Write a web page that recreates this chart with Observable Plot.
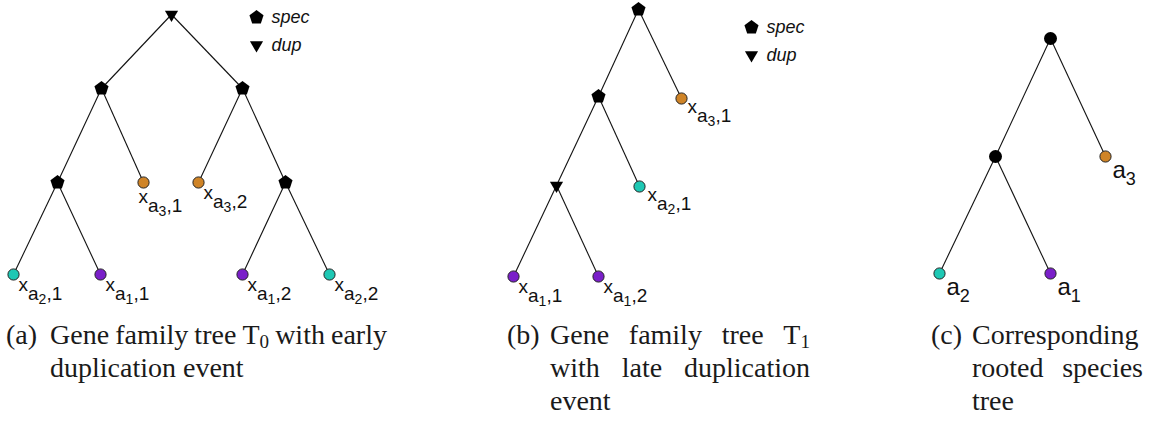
<!DOCTYPE html>
<html>
<head>
<meta charset="utf-8">
<script src="https://cdn.jsdelivr.net/npm/d3@7"></script>
<script src="https://cdn.jsdelivr.net/npm/@observablehq/plot@0.6"></script>
<style>
  html, body { margin: 0; padding: 0; background: #fff; }
  #figure { width: 1151px; }
  #figure svg { display: block; }
  #captions {
    position: relative; width: 1151px; height: 106px;
    font-family: "Liberation Serif", "Times New Roman", serif;
    font-size: 28px; line-height: 33px; color: #1a1a1a;
  }
  .caption { position: absolute; top: 0; }
  .caption .tag { position: absolute; left: 0; top: 0; white-space: nowrap; }
  .caption .body { position: absolute; top: 0; }
  .caption .line { white-space: nowrap; height: 33px; }
  .caption .spread { display: flex; justify-content: space-between; }
  .caption sub { font-size: 68%; vertical-align: -0.2em; line-height: 0; }
</style>
</head>
<body>
<div id="figure"></div>
<script>
// Nodes of the three trees: T0 (early duplication), T1 (late duplication), species tree S.
const nodeId = [
  "T0", "T0.L", "T0.R", "T0.LL", "T0.x31", "T0.x32", "T0.RR", "T0.x21", "T0.x11", "T0.x12", "T0.x22",
  "T1", "T1.L", "T1.x31", "T1.LL", "T1.x21", "T1.x11", "T1.x12",
  "S", "S.L", "S.a3", "S.a2", "S.a1"
];
const nodeParent = [
  null, "T0", "T0", "T0.L", "T0.L", "T0.R", "T0.R", "T0.LL", "T0.LL", "T0.RR", "T0.RR",
  null, "T1", "T1", "T1.L", "T1.L", "T1.LL", "T1.LL",
  null, "S", "S", "S.L", "S.L"
];
const nodeEvent = [
  "dup", "spec", "spec", "spec", "leaf", "leaf", "spec", "leaf", "leaf", "leaf", "leaf",
  "spec", "spec", "leaf", "dup", "leaf", "leaf", "leaf",
  "species", "species", "leaf", "leaf", "leaf"
];
// species index a_k carried by each leaf, and the gene copy number (gene trees only)
const nodeTaxon = [
  null, null, null, null, 3, 3, null, 2, 1, 1, 2,
  null, null, 3, null, 2, 1, 1,
  null, null, 3, 2, 1
];
const nodeCopy = [
  null, null, null, null, 1, 2, null, 1, 1, 2, 2,
  null, null, 1, null, 1, 1, 2,
  null, null, null, null, null
];
// drawing coordinates of the nodes
const nodeX = [171, 101, 242, 57, 143, 198, 285, 13, 100, 242, 329,
               638, 598, 681, 556, 639, 513, 598,
               1050, 995, 1105, 939, 1050];
const nodeY = [14, 88, 88, 182, 182, 182, 182, 274, 274, 274, 274,
               9, 96, 98, 185, 186, 276, 276,
               38, 156, 156, 273, 273];

// event legends drawn in panels (a) and (b)
const legendEvents = ["spec", "dup"];
const legendX = [256, 751];
const legendY = [17, 27];

// captions
const captionTags = ["(a)", "(b)", "(c)"];
const captionLines = [
  ["Gene family tree T<sub>0</sub> with early", "duplication event"],
  ["Gene family tree T<sub>1</sub>", "with late duplication", "event"],
  ["Corresponding", "rooted species", "tree"]
];

const W = 1151, H = 318;
const taxonColors = ["#7a1fc9", "#1ec8b4", "#cf8427"]; // a1, a2, a3

// custom symbols: pentagon (speciation) and downward triangle (duplication)
const pentagon = {
  draw(ctx, size) {
    const r = Math.sqrt(size / Math.PI);
    for (let k = 0; k < 5; ++k) {
      const a = -Math.PI / 2 + k * 2 * Math.PI / 5;
      const px = r * Math.cos(a), py = r * Math.sin(a);
      if (k) ctx.lineTo(px, py); else ctx.moveTo(px, py);
    }
    ctx.closePath();
  }
};
const triangleDown = {
  draw(ctx, size) {
    const r = Math.sqrt(size / Math.PI);
    const s = r * Math.sqrt(3) / 2;
    ctx.moveTo(0, r);
    ctx.lineTo(-s, -r / 2);
    ctx.lineTo(s, -r / 2);
    ctx.closePath();
  }
};

const nodes = nodeId.map((id, i) => ({
  id, parent: nodeParent[i], event: nodeEvent[i],
  taxon: nodeTaxon[i], copy: nodeCopy[i], x: nodeX[i], y: nodeY[i]
}));
const byId = new Map(nodes.map(d => [d.id, d]));
const edges = nodes.filter(d => d.parent).map(d => {
  const p = byId.get(d.parent);
  return {x1: p.x, y1: p.y, x2: d.x, y2: d.y};
});
const leaves = nodes.filter(d => d.event === "leaf");
const geneLeaves = leaves.filter(d => d.copy != null);
const speciesLeaves = leaves.filter(d => d.copy == null);

// label placement relative to the leaf (start of text, baseline)
const geneLabelOffset = {"T0.x31": [-5, 20], "T1.x31": [6, 14], "T1.x21": [8, 14]};
const geneOff = d => geneLabelOffset[d.id] || [5, 16];

const legend = [];
legendX.forEach((lx, p) => legendEvents.forEach((e, r) => legend.push({event: e, x: lx, y: legendY[p] + r * 27.5})));

const sans = "'Liberation Sans', Helvetica, Arial, sans-serif";

const svg = Plot.plot({
  width: W, height: H, margin: 0,
  x: {domain: [0, W], range: [0, W], axis: null},
  y: {domain: [0, H], range: [0, H], axis: null},
  color: {domain: [1, 2, 3], range: taxonColors},
  style: {background: "#fff"},
  marks: [
    Plot.link(edges, {x1: "x1", y1: "y1", x2: "x2", y2: "y2", stroke: "#111", strokeWidth: 1.1}),
    Plot.dot(nodes.filter(d => d.event === "spec"), {x: "x", y: "y", r: 7.4, symbol: pentagon, fill: "#000", stroke: "none"}),
    Plot.dot(nodes.filter(d => d.event === "dup"), {x: "x", y: "y", r: 7.6, symbol: triangleDown, fill: "#000", stroke: "none"}),
    Plot.dot(nodes.filter(d => d.event === "species"), {x: "x", y: "y", r: 6.5, fill: "#000", stroke: "none"}),
    Plot.dot(leaves, {x: "x", y: "y", r: 5.6, fill: "taxon", stroke: "#222", strokeWidth: 1}),
    // legend
    Plot.dot(legend.filter(d => d.event === "spec"), {x: "x", y: "y", r: 7.4, symbol: pentagon, fill: "#000", stroke: "none"}),
    Plot.dot(legend.filter(d => d.event === "dup"), {x: "x", y: "y", r: 7.6, symbol: triangleDown, fill: "#000", stroke: "none"}),
    Plot.text(legend, {x: "x", y: "y", text: "event", dx: 15, textAnchor: "start", fontSize: 18, fontStyle: "italic", fontFamily: sans, fill: "#111"}),
    // leaf labels (gene copies, then species)
    Plot.text(geneLeaves, {
      x: d => d.x + geneOff(d)[0], y: d => d.y + geneOff(d)[1],
      text: d => `xa${d.taxon},${d.copy}`,
      textAnchor: "start", lineAnchor: "bottom", fontSize: 19, fontFamily: sans, fill: "#111"
    }),
    Plot.text(speciesLeaves, {
      x: d => d.x + 7, y: d => d.y + 21,
      text: d => `a${d.taxon}`,
      textAnchor: "start", lineAnchor: "bottom", fontSize: 24, fontFamily: sans, fill: "#111"
    })
  ]
});

// turn the flat label strings into nested subscripts
const SVGNS = "http://www.w3.org/2000/svg";
function setRich(el, parts) {
  el.textContent = "";
  for (const [txt, size, shift] of parts) {
    const t = document.createElementNS(SVGNS, "tspan");
    t.textContent = txt;
    t.setAttribute("font-size", size);
    if (shift) t.setAttribute("dy", shift);
    el.appendChild(t);
  }
}
// text layers in mark order: legend, gene labels, species labels
const textLayers = svg.querySelectorAll('g[aria-label="text"]');
textLayers[1].querySelectorAll("text").forEach((el, i) => {
  const d = geneLeaves[i];
  setRich(el, [["x", 19, 0], ["a", 19, 9], [String(d.taxon), 14, 4], ["," + d.copy, 19, -4]]);
});
textLayers[2].querySelectorAll("text").forEach((el, i) => {
  const d = speciesLeaves[i];
  setRich(el, [["a", 24, 0], [String(d.taxon), 18, 7]]);
});

const fig = document.getElementById("figure");
fig.appendChild(svg);

// captions below the trees: hanging tag, justified lines, last line ragged
const capLayout = [
  {tag: 6, body: 50, width: 337},
  {tag: 507, body: 550, width: 260},
  {tag: 931, body: 972, width: 171}
];
const caps = document.createElement("div");
caps.id = "captions";
captionTags.forEach((tag, i) => {
  const c = document.createElement("div");
  c.className = "caption";
  c.style.left = capLayout[i].tag + "px";
  const t = document.createElement("span");
  t.className = "tag";
  t.textContent = tag;
  c.appendChild(t);
  const body = document.createElement("div");
  body.className = "body";
  body.style.left = (capLayout[i].body - capLayout[i].tag) + "px";
  body.style.width = capLayout[i].width + "px";
  const lines = captionLines[i];
  lines.forEach((line, j) => {
    const l = document.createElement("div");
    const last = j === lines.length - 1;
    l.className = "line" + (last ? "" : " spread");
    if (last) l.innerHTML = line;
    else line.split(" ").forEach(w => {
      const s = document.createElement("span");
      s.innerHTML = w;
      l.appendChild(s);
    });
    body.appendChild(l);
  });
  c.appendChild(body);
  caps.appendChild(c);
});
fig.appendChild(caps);
</script>
</body>
</html>
